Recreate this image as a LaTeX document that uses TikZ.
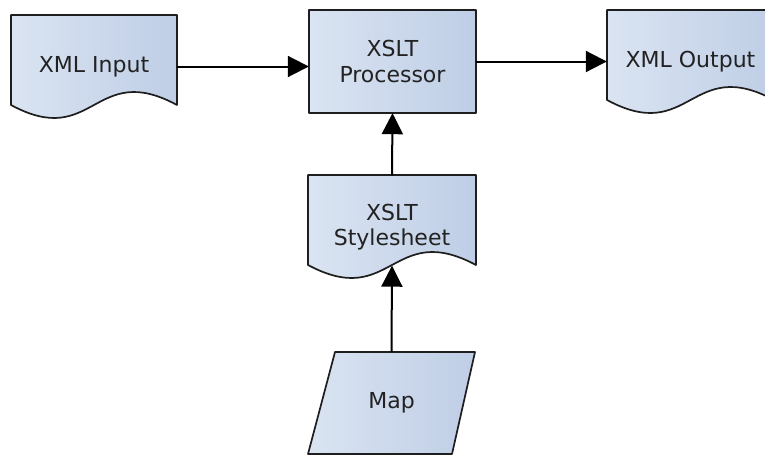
\documentclass[tikz,border=0pt]{standalone}
\usepackage{fontspec}
\setmainfont{DejaVu Sans}
\usetikzlibrary{arrows.meta}
\definecolor{boxl}{HTML}{DAE4F2}
\definecolor{boxr}{HTML}{BFCEE6}
\definecolor{txt}{HTML}{222222}
\definecolor{edge}{HTML}{1E1E1E}
\newcommand\docpath[4]{% x0, y0, x1, ybase
  (#1,#4) -- (#1,#2) -- (#3,#2) -- (#3,#4)
  .. controls ({(#1+#3)/2},{#4-45}) and ({(#1+#3)/2},{#4+45}) .. (#1,#4) -- cycle}
\tikzset{
  shapeline/.style={draw=edge, line width=1.7pt, line join=round, left color=boxl, right color=boxr},
  lbl/.style={text=txt, font=\fontsize{22}{25.5}\selectfont, align=center, inner sep=0pt},
  arr/.style={draw=black, line width=2pt, -{Triangle[length=21pt,width=21pt]}},
}
\begin{document}
\begin{tikzpicture}[x=1pt,y=-1pt]
\clip (0,0) rectangle (765,455);
\fill[white] (0,0) rectangle (765,455);
% shapes
\path[shapeline] \docpath{11}{15}{177}{105};
\path[shapeline] (309,10) rectangle (476,113);
\path[shapeline] \docpath{607}{10}{774}{100};
\path[shapeline] \docpath{308}{175}{476}{265};
\path[shapeline] (335,352) -- (475,352) -- (452,454) -- (308,454) -- cycle;
% labels
\node[lbl, minimum width=166pt, minimum height=103pt] (in) at (94,66.5) {\raisebox{-2pt}{XML Input}};
\node[lbl, minimum width=167pt, minimum height=103pt] (proc) at (392.5,61.5) {\raisebox{-2pt}{XSLT}\\\raisebox{-2pt}{Processor}};
\node[lbl, minimum width=167pt, minimum height=103pt] (out) at (690.5,61.5) {\raisebox{-2pt}{XML Output}};
\node[lbl, minimum width=168pt, minimum height=103pt] (sheet) at (392,227) {\raisebox{-2pt}{XSLT}\\\raisebox{-2pt}{Stylesheet}};
\node[lbl, minimum width=167pt, minimum height=102pt] (map) at (391.5,403) {\raisebox{-2pt}{Map}};
\coordinate (sheetb) at ([yshift=13pt]sheet.south);
% connectors
\draw[arr] (in.east) -- (in.east -| proc.west);
\draw[arr] (proc.east) -- (proc.east -| out.west);
\draw[arr] (sheet.north) -- (proc.south);
\draw[arr] (map.north) -- (sheetb);
\end{tikzpicture}
\end{document}
